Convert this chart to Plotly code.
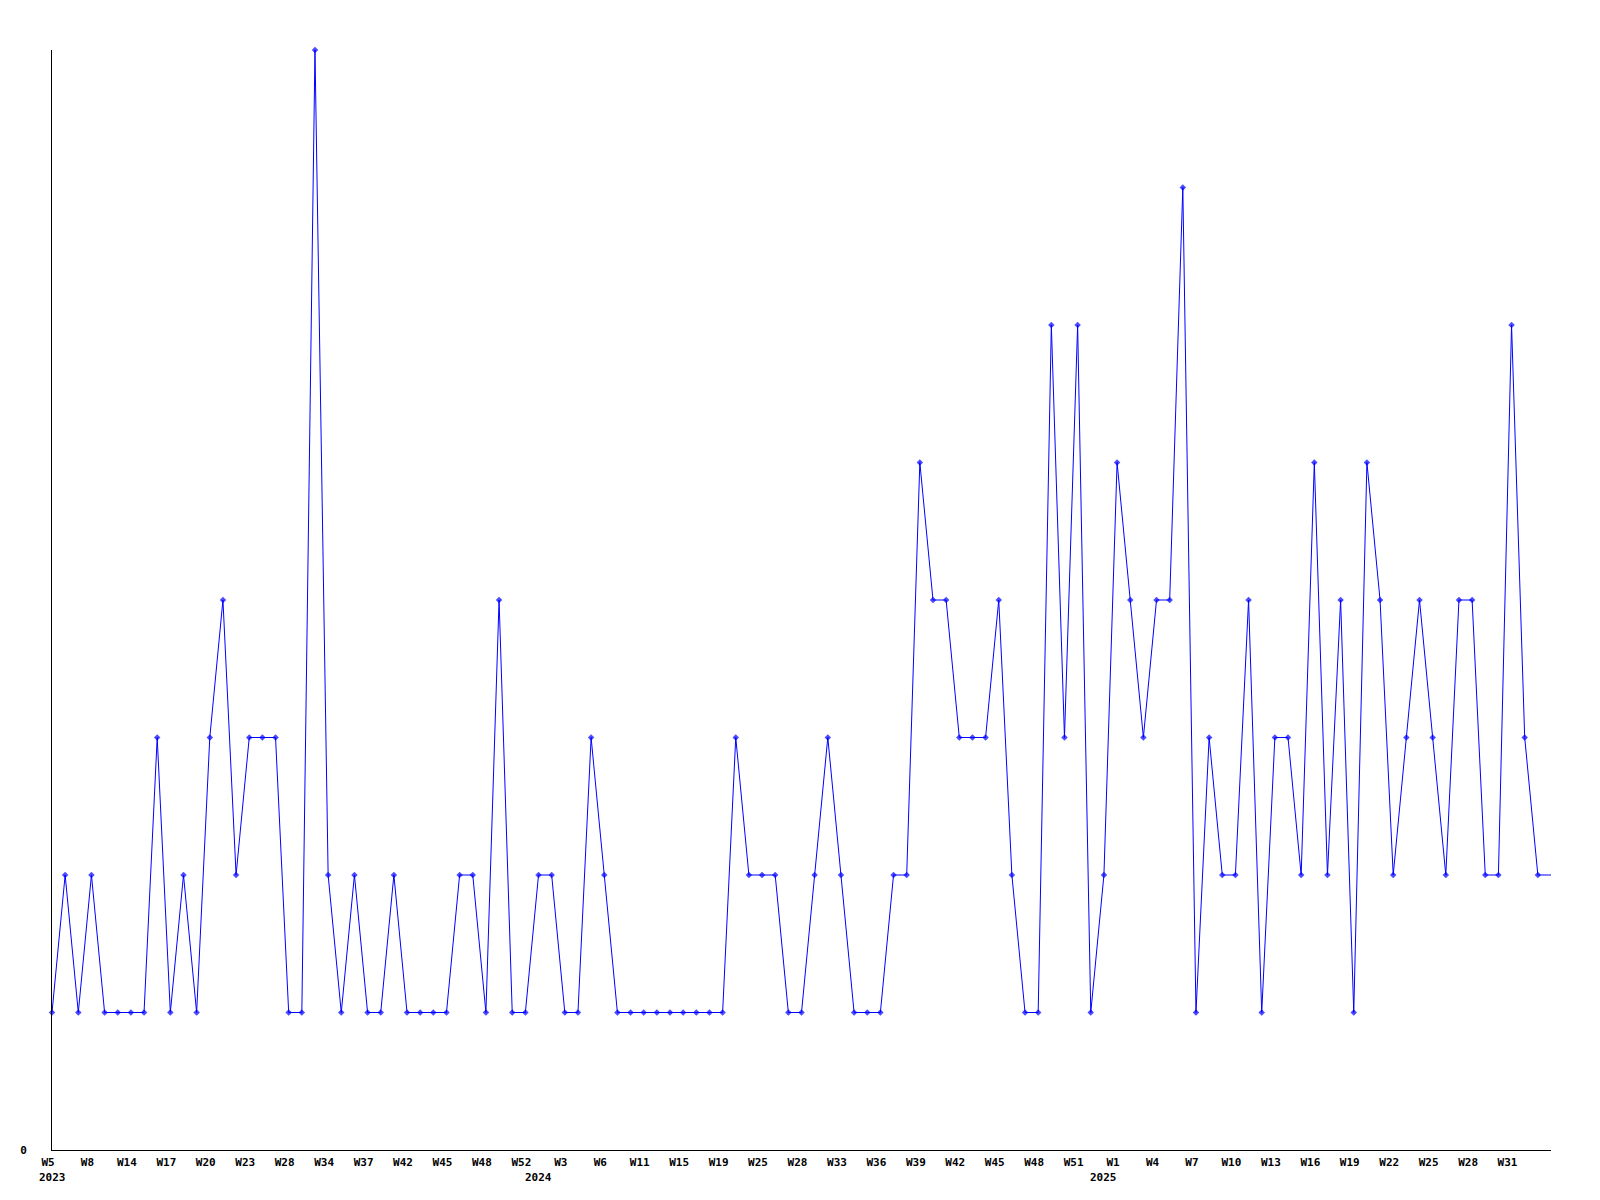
import plotly.graph_objects as go

# ---- data -------------------------------------------------------------
weeks_2023 = [5, 6, 7, 8, 10, 12, 14, 15, 16, 17, 18, 19, 20, 21, 22, 23, 25, 26,
              28, 30, 32, 34, 35, 36, 37, 39, 40, 42, 43, 44, 45, 46, 47, 48, 49, 51, 52]
weeks_2024 = [1, 2, 3, 4, 5, 6, 8, 9, 11, 12, 13, 15, 16, 17, 19, 21, 23, 25, 26, 27,
              28, 30, 31, 33, 34, 35, 36, 37, 38, 39, 40, 41, 42, 43, 44, 45, 46, 47,
              48, 49, 50, 51, 52]
weeks_2025 = [0, 1, 2, 3, 4, 5, 6, 7, 8, 9, 10, 11, 12, 13, 14, 15, 16, 17, 18, 19,
              20, 21, 22, 23, 24, 25, 26, 27, 28, 29, 30, 31, 32, 33, 34]

values = [1, 2, 1, 2, 1, 1, 1, 1, 3, 1, 2, 1, 3, 4, 2, 3, 3, 3, 1, 1, 8, 2, 1, 2, 1,
          1, 2, 1, 1, 1, 1, 2, 2, 1, 4, 1, 1, 2, 2, 1, 1, 3, 2, 1, 1, 1, 1, 1, 1, 1,
          1, 1, 3, 2, 2, 2, 1, 1, 2, 3, 2, 1, 1, 1, 2, 2, 5, 4, 4, 3, 3, 3, 4, 2, 1,
          1, 6, 3, 6, 1, 2, 5, 4, 3, 4, 4, 7, 1, 3, 2, 2, 4, 1, 3, 3, 2, 5, 2, 4, 1,
          5, 4, 2, 3, 4, 3, 2, 4, 4, 2, 2, 6, 3, 2, 2]

years = [2023, 2024, 2025]
# ----------------------------------------------------------------------

year_weeks = {2023: weeks_2023, 2024: weeks_2024, 2025: weeks_2025}
categories, week_labels, cat_year = [], [], []
for yr in years:
    for w in year_weeks[yr]:
        categories.append(f"{yr}-W{w:02d}")
        week_labels.append(f"W{w}")
        cat_year.append(yr)

# every third category is labelled (the final, partial week is not)
tickvals = categories[:-1][::3]
ticktext = week_labels[:-1][::3]

marker_sizes = [5] * (len(values) - 1) + [0]

fig = go.Figure()
fig.add_trace(go.Scatter(
    x=categories, y=values, mode="lines+markers",
    line=dict(color="#0000FF", width=1),
    marker=dict(symbol="diamond", size=marker_sizes, color="#0000FF",
                line=dict(width=0)),
    showlegend=False, cliponaxis=False,
))

tickfont = dict(family="DejaVu Sans Mono", size=11, color="black", weight="bold")

# year labels at first category of each year
for yr in years:
    first = categories[cat_year.index(yr)]
    fig.add_annotation(x=first, xref="x", y=0, yref="paper", text=str(yr),
                       showarrow=False, yanchor="middle", xanchor="center",
                       yshift=-27, font=tickfont)

fig.update_layout(
    width=1600, height=1200, autosize=False,
    margin=dict(l=42, r=57, t=42, b=58),
    paper_bgcolor="white", plot_bgcolor="white",
    xaxis=dict(type="category", range=[0, len(categories) - 1],
               showline=True, linecolor="black", linewidth=1,
               showgrid=False, zeroline=False, ticks="",
               tickvals=tickvals, ticktext=ticktext, tickangle=0,
               tickfont=tickfont, ticklabelshift=-4, ticklabelstandoff=2),
    yaxis=dict(range=[0, 8], showline=True, linecolor="black", linewidth=1,
               showgrid=False, zeroline=False, ticks="",
               tickvals=[0], ticktext=["0"], tickfont=tickfont,
               ticklabelstandoff=22),
)

fig.write_html("out.html")
